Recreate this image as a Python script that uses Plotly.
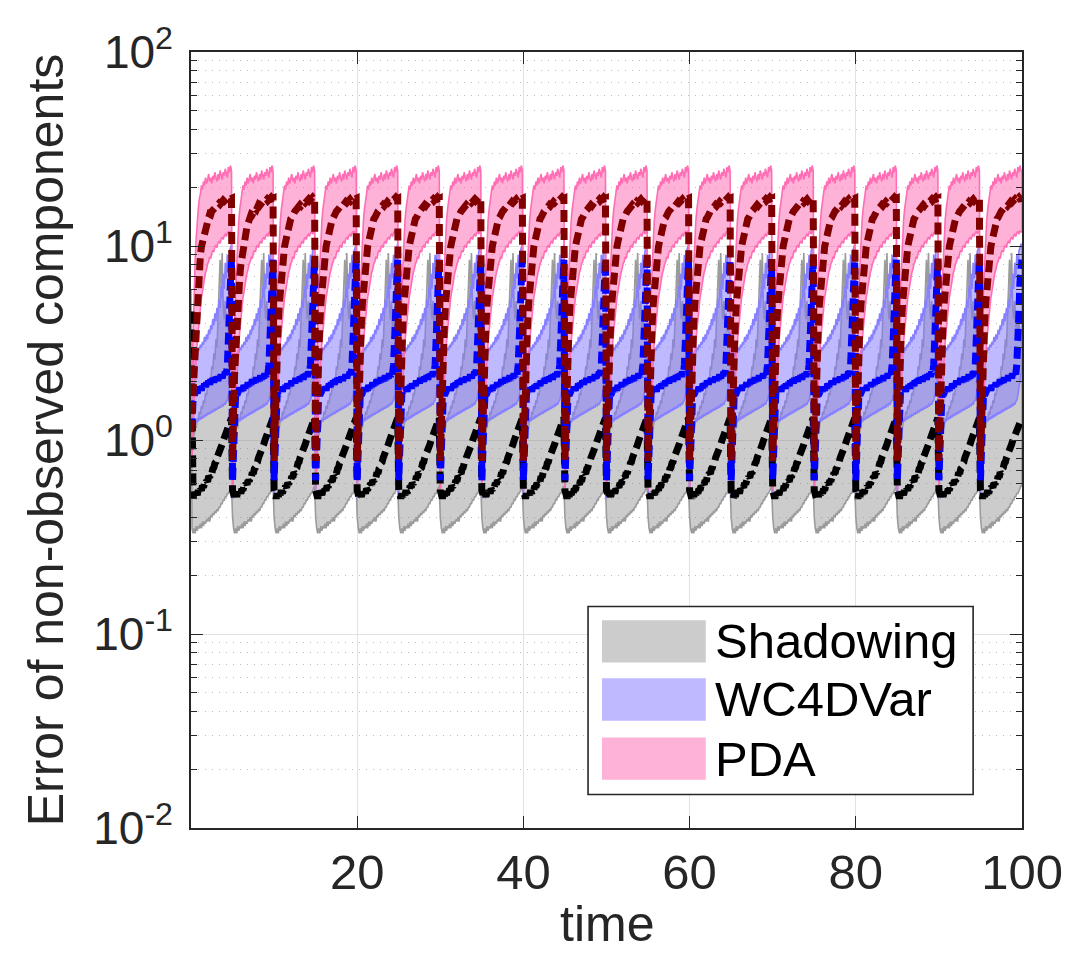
import plotly.graph_objects as go

# ---------------- data ----------------
cycle_starts = [0, 5, 10, 15, 20, 25, 30, 35, 40, 45, 50, 55, 60, 65, 70, 75, 80, 85, 90, 95]
phase = [0.0, 0.125, 0.25, 0.375, 0.5, 0.625, 0.75, 0.875, 1.0, 1.125, 1.25, 1.375, 1.5, 1.625,
         1.75, 1.875, 2.0, 2.125, 2.25, 2.375, 2.5, 2.625, 2.75, 2.875, 3.0, 3.125, 3.25, 3.375,
         3.5, 3.625, 3.75, 3.875, 4.0, 4.125, 4.25, 4.375, 4.5, 4.625, 4.75, 4.875]
t_end = 100.0

# Shadowing: mean, upper and lower envelope over one assimilation window
shd_mean = [0.55, 0.52, 0.50, 0.53, 0.51, 0.54, 0.52, 0.55, 0.53, 0.56, 0.55, 0.58, 0.57, 0.60,
            0.59, 0.62, 0.61, 0.65, 0.64, 0.68, 0.67, 0.71, 0.72, 0.76, 0.77, 0.81, 0.83, 0.86,
            0.88, 0.92, 0.95, 0.99, 1.02, 1.06, 1.10, 1.13, 1.18, 1.22, 1.27, 1.30]
shd_upper = [0.90, 1.00, 1.10, 1.05, 1.20, 1.15, 1.30, 1.25, 1.40, 1.35, 1.50, 1.45, 1.60, 1.55,
             1.75, 1.70, 1.90, 1.85, 2.10, 2.00, 2.40, 2.30, 2.80, 2.60, 3.30, 3.00, 4.20, 5.50,
             8.50, 6.00, 9.20, 5.00, 4.20, 5.20, 3.80, 4.50, 3.60, 4.00, 3.40, 3.20]
shd_lower = [0.40, 0.35, 0.33, 0.35, 0.33, 0.36, 0.34, 0.36, 0.35, 0.37, 0.35, 0.38, 0.36, 0.38,
             0.37, 0.39, 0.38, 0.40, 0.38, 0.41, 0.40, 0.42, 0.41, 0.43, 0.42, 0.44, 0.43, 0.45,
             0.45, 0.47, 0.47, 0.49, 0.49, 0.51, 0.51, 0.53, 0.53, 0.55, 0.56, 0.58]

# WC4DVar
wc_mean = [0.62, 1.20, 1.65, 1.75, 1.70, 1.80, 1.74, 1.85, 1.78, 1.88, 1.80, 1.92, 1.84, 1.95,
           1.88, 1.98, 1.90, 2.02, 1.93, 2.05, 1.96, 2.08, 1.98, 2.10, 2.00, 2.12, 2.02, 2.15,
           2.05, 2.18, 2.08, 2.20, 2.12, 2.25, 2.18, 2.45, 3.00, 4.50, 6.50, 8.50]
wc_upper = [0.90, 1.90, 2.60, 2.80, 2.70, 2.90, 2.80, 3.00, 2.90, 3.10, 3.00, 3.20, 3.10, 3.40,
            3.20, 3.50, 3.30, 3.70, 3.50, 3.90, 3.70, 4.20, 3.90, 4.50, 4.10, 4.80, 4.40, 5.30,
            4.80, 6.20, 5.40, 7.20, 6.00, 8.20, 6.80, 9.00, 7.60, 9.40, 9.80, 10.2]
wc_lower = [0.50, 0.85, 1.10, 1.20, 1.25, 1.22, 1.28, 1.25, 1.30, 1.27, 1.32, 1.29, 1.34, 1.31,
            1.36, 1.33, 1.38, 1.35, 1.40, 1.37, 1.42, 1.39, 1.44, 1.41, 1.46, 1.43, 1.48, 1.45,
            1.50, 1.47, 1.52, 1.50, 1.55, 1.52, 1.58, 1.60, 1.70, 1.80, 2.00, 2.20]

# PDA
pda_mean = [0.78, 1.40, 2.20, 3.00, 4.00, 5.00, 6.10, 7.00, 8.00, 8.90, 9.90, 10.5, 11.4, 11.9,
            12.7, 13.1, 13.8, 14.0, 14.6, 14.5, 15.1, 15.3, 15.6, 15.4, 16.0, 16.3, 16.1, 16.6,
            16.4, 16.9, 16.7, 17.2, 17.0, 17.4, 17.1, 17.6, 17.3, 17.8, 17.5, 17.6]
pda_upper = [1.00, 2.20, 4.00, 6.00, 8.50, 11.0, 13.5, 15.5, 17.5, 18.5, 20.5, 19.5, 21.5, 20.5,
             22.5, 21.0, 22.0, 23.5, 21.5, 22.5, 21.0, 23.0, 22.0, 24.0, 22.5, 21.5, 23.5, 22.0,
             24.5, 23.0, 22.0, 24.0, 23.0, 25.0, 23.5, 22.5, 25.5, 24.0, 26.0, 24.5]
pda_lower = [0.55, 0.80, 1.20, 1.60, 2.10, 2.60, 3.20, 3.70, 4.30, 4.80, 5.40, 5.80, 6.40, 6.80,
             7.30, 7.60, 8.10, 8.30, 8.80, 8.60, 9.20, 9.50, 9.30, 9.90, 10.1, 9.80, 10.4, 10.6,
             10.3, 10.9, 11.1, 10.8, 11.3, 11.5, 11.2, 11.7, 11.9, 11.5, 12.0, 11.8]

# start-up values at t = 0 (mean, upper, lower)
init_shd = [4.6, 6.0, 3.2]
init_wc = [1.6, 2.2, 1.1]
init_pda = [1.1, 1.4, 0.85]

method_names = ["Shadowing", "WC4DVar", "PDA"]
x_ticks = [20, 40, 60, 80, 100]
y_ticks = [0.01, 0.1, 1, 10, 100]
y_ticklabels = ["10<sup>-2</sup>", "10<sup>-1</sup>", "10<sup>0</sup>", "10<sup>1</sup>", "10<sup>2</sup>"]


# ---------------- build full series ----------------
def build(profile, init_value):
    t, v = [], []
    for s in cycle_starts:
        for p, val in zip(phase, profile):
            t.append(s + p)
            v.append(val)
    v[0] = init_value
    t.append(t_end)
    v.append(profile[-1])
    return t, v


T, S_mean = build(shd_mean, init_shd[0])
_, S_up = build(shd_upper, init_shd[1])
_, S_lo = build(shd_lower, init_shd[2])
_, W_mean = build(wc_mean, init_wc[0])
_, W_up = build(wc_upper, init_wc[1])
_, W_lo = build(wc_lower, init_wc[2])
_, P_mean = build(pda_mean, init_pda[0])
_, P_up = build(pda_upper, init_pda[1])
_, P_lo = build(pda_lower, init_pda[2])

FONT = "Liberation Sans, Arial, Helvetica, sans-serif"
AX = "#262626"

fill_cols = ["rgba(128,128,128,0.40)", "rgba(128,115,255,0.50)", "rgba(255,102,178,0.50)"]
edge_cols = ["rgb(155,155,155)", "rgb(135,128,255)", "rgb(255,110,180)"]
mean_cols = ["#000000", "#0000ff", "#800000"]

fig = go.Figure()
bands = [(S_up, S_lo), (W_up, W_lo), (P_up, P_lo)]
for (up, lo), fc, ec in zip(bands, fill_cols, edge_cols):
    fig.add_trace(go.Scatter(x=T + T[::-1], y=up + lo[::-1], mode="lines", fill="toself",
                             fillcolor=fc, line=dict(color=ec, width=1.6),
                             hoverinfo="skip", showlegend=False))
for m, mc in zip([S_mean, W_mean, P_mean], mean_cols):
    fig.add_trace(go.Scatter(x=T, y=m, mode="lines",
                             line=dict(color=mc, width=7, dash="12px,6px"),
                             showlegend=False))

# ---------------- layout ----------------
# page body has an 8px margin: the figure is drawn 8px right/down of the window corner
OFF = 8
WIN_W, WIN_H = 1075, 956
W, H = WIN_W - OFF, WIN_H - OFF
L, R, TOP, BOT = 191, 1024, 40, 828  # plot-area edges in window pixels


def px(xp):
    return (xp - L) / (R - L)


def py(yp):
    return (BOT - yp) / (BOT - TOP)


minor_vals = [m * 10 ** e for e in range(-2, 2) for m in range(2, 10)]

fig.update_layout(
    width=W, height=H,
    margin=dict(l=L - OFF, r=WIN_W - R, t=TOP - OFF, b=WIN_H - BOT, pad=0),
    paper_bgcolor="white", plot_bgcolor="white",
    font=dict(family=FONT, color=AX),
    xaxis=dict(range=[0, 100], tickvals=x_ticks, ticks="inside", ticklen=12, tickwidth=1.3,
               tickcolor=AX, showline=True, linecolor=AX, linewidth=1.6, mirror="ticks",
               showgrid=True, gridcolor="#e2e2e2", gridwidth=1.2, zeroline=False,
               tickfont=dict(size=49, color=AX, family=FONT), ticklabelstandoff=0,
               ticklabeloverflow="allow"),
    yaxis=dict(type="log", range=[-2, 2], tickvals=y_ticks, ticktext=y_ticklabels,
               ticks="inside", ticklen=12, tickwidth=1.3, tickcolor=AX, showline=True,
               linecolor=AX, linewidth=1.6, mirror="ticks", showgrid=True, gridcolor="#e2e2e2",
               gridwidth=1.2, zeroline=False,
               tickfont=dict(size=46, color=AX, family=FONT), ticklabelstandoff=7,
               ticklabeloverflow="allow",
               minor=dict(tickmode="array", tickvals=minor_vals, ticks="inside", ticklen=6,
                          tickcolor=AX, showgrid=True, gridcolor="#bdbdbd",
                          griddash="1px,6px", gridwidth=1.2)),
)

annotations = [
    dict(text="time", x=0.5, y=py(955.5), xref="paper", yref="paper", showarrow=False,
         xanchor="center", yanchor="bottom", font=dict(size=50, color=AX, family=FONT)),
    dict(text="Error of non-observed components", x=px(46), y=0.5, xref="paper", yref="paper",
         showarrow=False, textangle=-90, xanchor="center", yanchor="middle",
         font=dict(size=50, color=AX, family=FONT)),
]

# manual legend (large swatches as in the reference)
shapes = [dict(type="rect", xref="paper", yref="paper", x0=px(589), x1=px(975), y0=py(794),
               y1=py(603), line=dict(color=AX, width=1.6), fillcolor="white", layer="above")]
row_centres = [638.5, 697.5, 757.5]
for name, fc, yc in zip(method_names, fill_cols, row_centres):
    shapes.append(dict(type="rect", xref="paper", yref="paper", x0=px(603), x1=px(707),
                       y0=py(yc + 21.5), y1=py(yc - 21.5), line=dict(width=0),
                       fillcolor=fc, layer="above"))
    annotations.append(dict(text=name, x=px(714), y=py(yc), xref="paper", yref="paper",
                            showarrow=False, xanchor="left", yanchor="middle",
                            font=dict(size=49, color="#000000", family=FONT)))

fig.update_layout(shapes=shapes, annotations=annotations)

fig.write_html("out.html")
